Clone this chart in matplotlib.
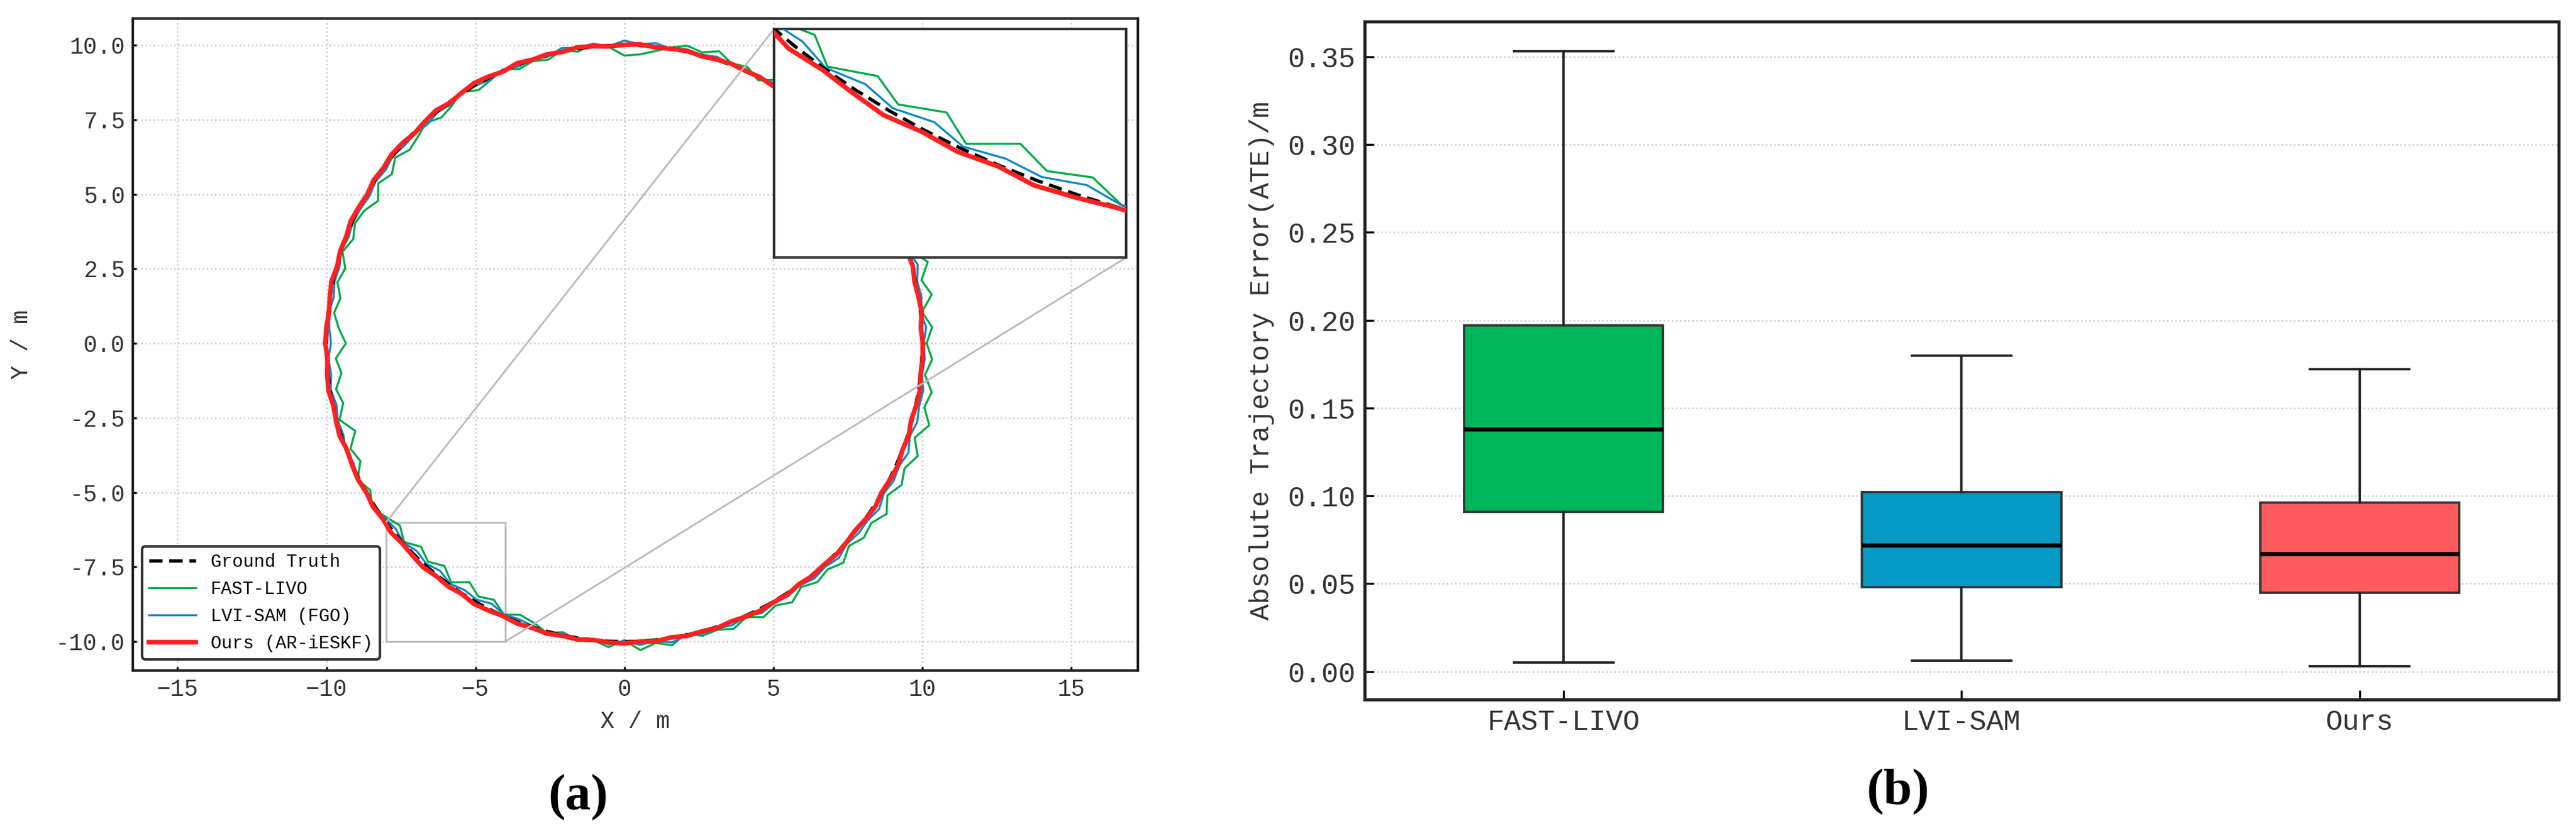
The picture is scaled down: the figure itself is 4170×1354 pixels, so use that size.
import numpy as np
import matplotlib
matplotlib.use("Agg")
import matplotlib.pyplot as plt
from mpl_toolkits.axes_grid1.inset_locator import mark_inset

plt.rcParams['font.family'] = ['Liberation Mono', 'DejaVu Sans']
plt.rcParams['axes.unicode_minus'] = True

# ---- (a) trajectories: sample heading (deg) and radial offset (m) from the 10 m reference circle
theta_deg = np.arange(0, 361, 3)
gt_radius = 10.0

fast_livo_dr = [
    0.15, 0.35, 0.05, 0.45, 0.20, 0.55, 0.10, 0.30, -0.05, 0.25, 0.10, 0.30,
    0.05, 0.20, -0.10, 0.15, 0.05, 0.25, -0.05, 0.10, 0.20, -0.10, 0.15, 0.05,
    0.30, 0.10, 0.20, 0.05, -0.15, -0.30, -0.35, -0.05, 0.10, -0.10, 0.05, -0.15,
    -0.05, -0.15, 0.05, -0.10, -0.20, 0.05, -0.15, -0.25, -0.05, -0.20, -0.30, -0.10,
    -0.35, -0.15, -0.45, -0.20, -0.10, -0.25, -0.05, -0.30, -0.15, -0.35, -0.20, -0.40,
    -0.65, -0.30, -0.45, -0.20, -0.35, -0.10, -0.50, -0.15, -0.30, 0.05, -0.15, 0.10,
    -0.10, -0.30, -0.05, -0.35, -0.15, -0.40, -0.10, -0.45, -0.20, -0.35, -0.05, -0.25,
    -0.15, 0.05, -0.10, 0.10, 0.00, 0.20, -0.05, 0.30, 0.10, 0.25, -0.05, 0.15,
    0.10, 0.25, 0.05, 0.30, 0.15, 0.35, 0.10, 0.30, 0.20, 0.40, 0.15, 0.35,
    0.25, 0.50, 0.20, 0.45, 0.30, 0.55, 0.25, 0.60, 0.30, 0.45, 0.15, 0.35,
    0.15,
]
lvi_sam_dr = [
    0.05, 0.15, 0.00, 0.10, 0.05, 0.20, 0.02, 0.10, -0.05, 0.08, 0.03, 0.12,
    0.00, 0.08, -0.05, 0.06, 0.02, 0.10, -0.03, 0.05, 0.08, -0.04, 0.06, 0.00,
    0.10, 0.02, 0.08, 0.00, 0.12, 0.05, 0.15, -0.02, 0.10, 0.03, 0.12, -0.05,
    0.02, -0.06, 0.05, -0.08, -0.02, 0.04, -0.10, -0.03, -0.12, -0.05, -0.08, 0.00,
    -0.10, -0.04, -0.12, -0.06, -0.02, -0.08, 0.00, -0.10, -0.05, -0.12, -0.03, -0.08,
    -0.15, -0.05, -0.10, -0.02, -0.12, -0.04, -0.08, 0.02, -0.06, 0.04, -0.05, 0.06,
    -0.05, -0.12, -0.02, -0.15, -0.06, -0.18, -0.04, -0.14, -0.08, -0.20, -0.05, -0.10,
    -0.04, 0.05, -0.06, 0.08, 0.00, 0.10, -0.02, 0.12, 0.04, 0.15, 0.02, 0.08,
    0.05, 0.12, 0.02, 0.15, 0.06, 0.10, 0.03, 0.14, 0.08, 0.18, 0.05, 0.12,
    0.10, 0.20, 0.06, 0.15, 0.10, 0.22, 0.08, 0.18, 0.12, 0.16, 0.05, 0.10,
    0.05,
]
ours_dr = [
    0.02, -0.03, 0.04, 0.00, -0.04, 0.03, -0.02, 0.05, 0.00, -0.03, 0.04, 0.01,
    -0.02, 0.03, 0.00, -0.04, 0.02, 0.05, -0.01, 0.03, -0.03, 0.02, 0.00, 0.04,
    0.01, -0.03, 0.03, 0.00, -0.02, 0.04, 0.01, -0.03, 0.02, 0.05, -0.01, 0.03,
    0.00, 0.06, -0.02, 0.04, 0.08, 0.02, -0.03, 0.05, 0.01, -0.04, 0.03, 0.06,
    0.00, 0.04, -0.03, 0.02, 0.06, 0.00, 0.03, -0.02, 0.05, 0.01, -0.03, 0.02,
    0.04, -0.02, 0.03, 0.06, -0.01, 0.02, 0.05, -0.03, 0.01, 0.04, 0.00, 0.06,
    0.02, 0.08, 0.03, 0.06, 0.10, 0.04, 0.07, 0.02, 0.09, 0.05, 0.01, 0.06,
    0.03, 0.07, 0.02, 0.05, 0.00, 0.04, 0.06, 0.01, 0.05, -0.02, 0.03, 0.00,
    0.04, -0.01, 0.03, 0.06, 0.02, 0.05, -0.02, 0.03, 0.00, 0.04, 0.01, -0.03,
    0.02, 0.05, -0.02, 0.03, 0.06, 0.00, 0.04, -0.03, 0.02, 0.05, 0.00, 0.03,
    0.02,
]

# ---- (b) ATE box statistics
methods = ["FAST-LIVO", "LVI-SAM", "Ours"]
ate_whislo = [0.005, 0.006, 0.003]
ate_q1 = [0.091, 0.048, 0.045]
ate_med = [0.138, 0.072, 0.067]
ate_q3 = [0.197, 0.102, 0.096]
ate_whishi = [0.353, 0.180, 0.172]
box_colors = ["#00B65A", "#0599C6", "#FF5B5F"]


def to_xy(dr):
    th = np.radians(theta_deg)
    r = gt_radius + np.asarray(dr)
    return r * np.cos(th), r * np.sin(th)


series = [
    ("Ground Truth", np.zeros(len(theta_deg)), "black", 1.3, (0, (4, 2)), 4),
    ("FAST-LIVO", fast_livo_dr, "#00AA48", 0.8, "-", 2),
    ("LVI-SAM (FGO)", lvi_sam_dr, "#1088C8", 0.8, "-", 3),
    ("Ours (AR-iESKF)", ours_dr, "#FF2020", 1.8, "-", 5),
]

fig = plt.figure(figsize=(13.9, 1354 / 300), dpi=300)

# ---------------- (a) trajectory
ax1 = fig.add_axes([0.0516, 0.1979, 0.3902, 0.7799])
axins = fig.add_axes([0.3005, 0.692, 0.1367, 0.2733])
for name, dr, color, lw, ls, z in series:
    x, y = to_xy(dr)
    ax1.plot(x, y, color=color, lw=lw, ls=ls, zorder=z, label=name)
    axins.plot(x, y, color=color, lw=lw, ls=ls, zorder=z)

ax1.set_xlim(-16.5, 17.25)
ax1.set_ylim(-10.97, 10.89)
ax1.set_xticks([-15, -10, -5, 0, 5, 10, 15])
ax1.set_yticks(np.arange(-10, 10.1, 2.5))
ax1.yaxis.set_major_formatter(matplotlib.ticker.FormatStrFormatter("%.1f"))
ax1.tick_params(direction="in", length=1.5, width=0.8, labelsize=9, pad=3,
                labelcolor="#333333")
ax1.grid(True, ls=":", color="#cccccc", lw=0.6)
ax1.set_axisbelow(True)
ax1.set_xlabel("X / m", fontsize=9, labelpad=4, color="#333333")
ax1.set_ylabel("Y / m", fontsize=9, labelpad=9, color="#333333")
for sp in ax1.spines.values():
    sp.set_linewidth(1.0)
    sp.set_color("#222222")

leg = ax1.legend(loc="lower left", bbox_to_anchor=(0.009, 0.017), borderaxespad=0,
                 fontsize=7, handlelength=2.6, labelspacing=0.55, fancybox=True,
                 framealpha=1, edgecolor="#333333")
leg.get_frame().set_linewidth(1.0)

axins.set_xlim(-8, -4)
axins.set_ylim(-10, -6)
axins.set_xticks([])
axins.set_yticks([])
for sp in axins.spines.values():
    sp.set_linewidth(1.0)
    sp.set_color("#333333")
mark_inset(ax1, axins, loc1=2, loc2=4, fc="none", ec="#bbbbbb", lw=0.7)

# ---------------- (b) ATE box plot
ax2 = fig.add_axes([0.5297, 0.1632, 0.4636, 0.8109])
stats = []
for i, m in enumerate(methods):
    stats.append(dict(label=m, whislo=ate_whislo[i], q1=ate_q1[i], med=ate_med[i],
                      q3=ate_q3[i], whishi=ate_whishi[i], fliers=[]))
bp = ax2.bxp(stats, positions=[1, 2, 3], widths=0.5, patch_artist=True, showfliers=False,
             boxprops=dict(edgecolor="#333333", lw=0.9),
             medianprops=dict(color="black", lw=1.6),
             whiskerprops=dict(color="#222222", lw=0.9),
             capprops=dict(color="#222222", lw=0.9))
for patch, c in zip(bp["boxes"], box_colors):
    patch.set_facecolor(c)

ax2.set_xlim(0.5, 3.5)
ax2.set_ylim(-0.016, 0.370)
ax2.set_yticks(np.arange(0, 0.351, 0.05))
ax2.yaxis.set_major_formatter(matplotlib.ticker.FormatStrFormatter("%.2f"))
ax2.tick_params(direction="in", length=3.5, width=0.8, labelsize=11, pad=3.5,
                labelcolor="#333333")
ax2.yaxis.grid(True, ls=":", color="#cccccc", lw=0.6)
ax2.set_axisbelow(True)
ax2.set_ylabel("Absolute Trajectory Error(ATE)/m", fontsize=10.5, labelpad=5,
               color="#333333")
for sp in ax2.spines.values():
    sp.set_linewidth(1.2)
    sp.set_color("#222222")

fig.text(936 / 4170, 1 - 1292 / 1354, "(a)", fontsize=20, fontweight="bold",
         family="Liberation Serif", ha="center", va="center")
fig.text(3072 / 4170, 1 - 1283 / 1354, "(b)", fontsize=20, fontweight="bold",
         family="Liberation Serif", ha="center", va="center")

fig.savefig("out.png", dpi=300)
